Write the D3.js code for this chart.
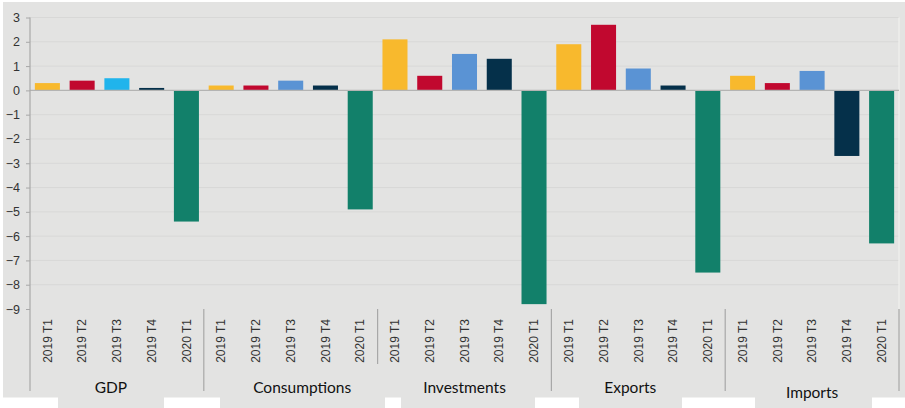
<!DOCTYPE html>
<html>
<head>
<meta charset="utf-8">
<script src="https://cdn.jsdelivr.net/npm/d3@7"></script>
<style>
  html, body { margin: 0; padding: 0; background: #ffffff; }
  svg { display: block; }
</style>
</head>
<body>
<svg id="chart" width="905" height="408"></svg>
<script>
// Quarter-on-quarter change (%) by component
const groups = ["GDP", "Consumptions", "Investments", "Exports", "Imports"];
const quarters = ["2019 T1", "2019 T2", "2019 T3", "2019 T4", "2020 T1"];
const gdp = [0.3, 0.4, 0.5, 0.1, -5.4];
const consumptions = [0.2, 0.2, 0.4, 0.2, -4.9];
const investments = [2.1, 0.6, 1.5, 1.3, -8.8];
const exportsSeries = [1.9, 2.7, 0.9, 0.2, -7.5];
const imports = [0.6, 0.3, 0.8, -2.7, -6.3];
const yTicks = [3, 2, 1, 0, -1, -2, -3, -4, -5, -6, -7, -8, -9];

const seriesByGroup = [gdp, consumptions, investments, exportsSeries, imports];
const quarterColors = ["#f8b92d", "#c1082f", "#5a93d4", "#05304a", "#12806a"];
const gdpT3Color = "#20b4ec";

const svg = d3.select("#chart");
const plotLeft = 30, plotRight = 899, plotTop = 17.5, plotBottom = 309;

// background panel
svg.append("rect").attr("x", 3).attr("y", 2).attr("width", 902).attr("height", 395.5)
  .attr("fill", "#e3e3e2");

// gray boxes beneath group labels
const boxes = [[58, 164], [220, 385], [401, 535], [579, 682], [755, 872]];
svg.selectAll("rect.lbox").data(boxes).join("rect").attr("class", "lbox")
  .attr("x", d => d[0]).attr("y", 397).attr("width", d => d[1] - d[0]).attr("height", 11)
  .attr("fill", "#e3e3e2");

const rows = [];
groups.forEach((g, gi) => quarters.forEach((q, qi) => {
  rows.push({ key: g + "|" + q, group: g, gi, quarter: q, qi, value: seriesByGroup[gi][qi] });
}));

const x = d3.scaleBand().domain(rows.map(r => r.key)).range([plotLeft, plotRight])
  .paddingInner(0.28).paddingOuter(0.14);
const y = d3.scaleLinear().domain([-9, 3]).range([plotBottom, plotTop]);

// horizontal gridlines
svg.append("g").selectAll("line").data(yTicks.filter(t => t !== 0 && t !== -9)).join("line")
  .attr("x1", plotLeft).attr("x2", plotRight)
  .attr("y1", d => y(d)).attr("y2", d => y(d))
  .attr("stroke", "#d8d8d7").attr("stroke-width", 1);

// light right edge of plot
svg.append("line").attr("x1", plotRight).attr("x2", plotRight).attr("y1", plotTop).attr("y2", plotBottom)
  .attr("stroke", "#f0f0ef").attr("stroke-width", 1.2);

// bars
svg.append("g").selectAll("rect").data(rows).join("rect")
  .attr("x", d => x(d.key))
  .attr("width", x.bandwidth())
  .attr("y", d => y(Math.max(0, d.value)))
  .attr("height", d => Math.abs(y(d.value) - y(0)))
  .attr("fill", d => (d.gi === 0 && d.qi === 2) ? gdpT3Color : quarterColors[d.qi]);

// zero line
svg.append("line").attr("x1", plotLeft).attr("x2", plotRight).attr("y1", y(0)).attr("y2", y(0))
  .attr("stroke", "#b4b4b3").attr("stroke-width", 1.2);

// y axis
const yAxis = d3.axisLeft(y).tickValues(yTicks).tickSize(4).tickPadding(6).tickFormat(d3.format("d"));
const ya = svg.append("g").attr("transform", `translate(${plotLeft},0)`).call(yAxis);
ya.select(".domain").remove();
ya.selectAll(".tick line").attr("stroke", "#a8a8a8");
ya.selectAll(".tick text").attr("fill", "#333").attr("font-family", "Liberation Sans, Arial, sans-serif")
  .attr("font-size", 12.5);
svg.append("line").attr("x1", plotLeft).attr("x2", plotLeft).attr("y1", plotTop).attr("y2", 391)
  .attr("stroke", "#a8a8a8").attr("stroke-width", 1.2);

// group separators below the plot
const seps = [1, 2, 3, 4, 5].map(i => ({ i, x: plotLeft + (plotRight - plotLeft) * i / groups.length }));
svg.append("g").selectAll("line").data(seps).join("line")
  .attr("x1", d => d.x).attr("x2", d => d.x)
  .attr("y1", plotBottom).attr("y2", d => d.i === 2 ? 364 : 391)
  .attr("stroke", "#a8a8a8").attr("stroke-width", 1.2);

// quarter tick labels (rotated)
svg.append("g").selectAll("text").data(rows).join("text")
  .attr("transform", d => `translate(${x(d.key) + x.bandwidth() / 2},${plotBottom + 10}) rotate(-90)`)
  .attr("text-anchor", "end").attr("dy", "0.35em")
  .attr("font-family", "Liberation Sans, Arial, sans-serif").attr("font-size", 12)
  .attr("fill", "#333").text(d => d.quarter);

// group labels
const nudge = [-6, 11.5, 0, -8, 0];
const drop = [0, 0, 0, 0, 5.5];
svg.append("g").selectAll("text").data(groups).join("text")
  .attr("x", (g, i) => plotLeft + (plotRight - plotLeft) * (i + 0.5) / groups.length + nudge[i])
  .attr("y", (g, i) => 392.5 + drop[i])
  .attr("text-anchor", "middle")
  .attr("font-family", "Lato, 'Open Sans', sans-serif").attr("font-size", 15.5)
  .attr("fill", "#111").text(g => g);
</script>
</body>
</html>
